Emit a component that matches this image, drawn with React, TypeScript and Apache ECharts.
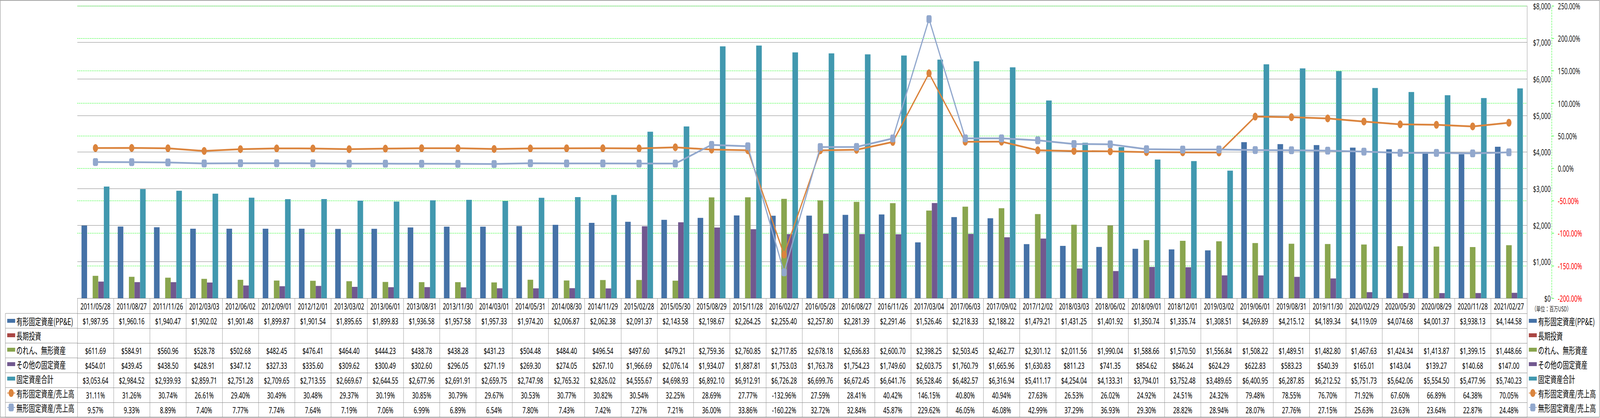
import React, { useEffect, useRef } from 'react';
import * as echarts from 'echarts';

const dates = [
  '2011/05/28', '2011/08/27', '2011/11/26', '2012/03/03', '2012/06/02', '2012/09/01', '2012/12/01', '2013/03/02',
  '2013/06/01', '2013/08/31', '2013/11/30', '2014/03/01', '2014/05/31', '2014/08/30', '2014/11/29', '2015/02/28',
  '2015/05/30', '2015/08/29', '2015/11/28', '2016/02/27', '2016/05/28', '2016/08/27', '2016/11/26', '2017/03/04',
  '2017/06/03', '2017/09/02', '2017/12/02', '2018/03/03', '2018/06/02', '2018/09/01', '2018/12/01', '2019/03/02',
  '2019/06/01', '2019/08/31', '2019/11/30', '2020/02/29', '2020/05/30', '2020/08/29', '2020/11/28', '2021/02/27',
];

const ppe = [
  1987.95, 1960.16, 1940.47, 1902.02, 1901.48, 1899.87, 1901.54, 1895.65, 1899.83, 1936.58,
  1957.58, 1957.33, 1974.2, 2006.87, 2062.38, 2091.37, 2143.58, 2198.67, 2264.25, 2255.4,
  2257.8, 2281.39, 2291.46, 1526.46, 2218.33, 2188.22, 1479.21, 1431.25, 1401.92, 1350.74,
  1335.74, 1308.51, 4269.89, 4215.12, 4189.34, 4119.09, 4074.68, 4001.37, 3938.13, 4144.58,
];

const longTermInvestments: (number | null)[] = [];

const goodwill = [
  611.69, 584.91, 560.96, 528.78, 502.68, 482.45, 476.41, 464.4, 444.23, 438.78,
  438.28, 431.23, 504.48, 484.4, 496.54, 497.6, 479.21, 2759.36, 2760.85, 2717.85,
  2678.18, 2636.83, 2600.7, 2398.25, 2503.45, 2462.77, 2301.12, 2011.56, 1990.04, 1588.66,
  1570.5, 1556.84, 1508.22, 1489.51, 1482.8, 1467.63, 1424.34, 1413.87, 1399.15, 1448.66,
];

const otherFixed = [
  454.01, 439.45, 438.5, 428.91, 347.12, 327.33, 335.6, 309.62, 300.49, 302.6,
  296.05, 271.19, 269.3, 274.05, 267.1, 1966.69, 2076.14, 1934.07, 1887.81, 1753.03,
  1763.78, 1754.23, 1749.6, 2603.75, 1760.79, 1665.96, 1630.83, 811.23, 741.35, 854.62,
  846.24, 624.29, 622.83, 583.23, 540.39, 165.01, 143.04, 139.27, 140.68, 147.0,
];

const totalFixed = [
  3053.64, 2984.52, 2939.93, 2859.71, 2751.28, 2709.65, 2713.55, 2669.67, 2644.55, 2677.96,
  2691.91, 2659.75, 2747.98, 2765.32, 2826.02, 4555.67, 4698.93, 6892.1, 6912.91, 6726.28,
  6699.76, 6672.45, 6641.76, 6528.46, 6482.57, 6316.94, 5411.17, 4254.04, 4133.31, 3794.01,
  3752.48, 3489.65, 6400.95, 6287.85, 6212.52, 5751.73, 5642.06, 5554.5, 5477.96, 5740.23,
];

const ppeRatio = [
  31.11, 31.26, 30.74, 26.61, 29.4, 30.49, 30.48, 29.37, 30.19, 30.85,
  30.79, 29.67, 30.53, 30.77, 30.82, 30.54, 32.25, 28.69, 27.77, -132.96,
  27.59, 28.41, 40.42, 146.15, 40.8, 40.94, 27.63, 26.53, 26.02, 24.92,
  24.51, 24.32, 79.48, 78.55, 76.7, 71.92, 67.6, 66.89, 64.38, 70.05,
];

const intangibleRatio = [
  9.57, 9.33, 8.89, 7.4, 7.77, 7.74, 7.64, 7.19, 7.06, 6.99,
  6.89, 6.54, 7.8, 7.43, 7.42, 7.27, 7.21, 36.0, 33.86, -160.22,
  32.72, 32.84, 45.87, 229.62, 46.05, 46.08, 42.99, 37.29, 36.93, 29.3,
  28.82, 28.94, 28.07, 27.76, 27.15, 25.63, 23.63, 23.64, 22.87, 24.48,
];

const seriesNames = [
  '有形固定資産(PP&E)',
  '長期投資',
  'のれん、無形資産',
  'その他の固定資産',
  '固定資産合計',
  '有形固定資産/売上高',
  '無形固定資産/売上高',
];

const colors = ['#4572A7', '#AA4643', '#89A54E', '#71588F', '#4198AF', '#DB843D', '#92A8CD'];

const unitLabel = '（単位：百万USD）';

const money = (v: number | null | undefined) =>
  v == null ? '' : '$' + v.toLocaleString('en-US', { minimumFractionDigits: 2, maximumFractionDigits: 2 });
const pct = (v: number | null | undefined) => (v == null ? '' : v.toFixed(2) + '%');

const tableRows: { values: (number | null)[]; fmt: (v: number | null | undefined) => string }[] = [
  { values: ppe, fmt: money },
  { values: longTermInvestments, fmt: money },
  { values: goodwill, fmt: money },
  { values: otherFixed, fmt: money },
  { values: totalFixed, fmt: money },
  { values: ppeRatio, fmt: pct },
  { values: intangibleRatio, fmt: pct },
];

const GRAY = '#868686';
const NUM_FONT = '"Noto Sans", "DejaVu Sans", sans-serif';
const CJK_FONT = '"Noto Sans CJK JP", "Noto Sans", sans-serif';

const REF_W = 6227;
const REF_H = 1071;

export default function App() {
  const ref = useRef<HTMLDivElement>(null);
  const vw = typeof window !== 'undefined' && window.innerWidth ? window.innerWidth : REF_W;
  const vh = typeof window !== 'undefined' && window.innerHeight ? window.innerHeight : REF_H;
  const sx = vw / REF_W;
  const sy = vh / REF_H;

  useEffect(() => {
    if (!ref.current) return;
    const chart = echarts.init(ref.current, undefined, { renderer: 'svg', width: REF_W, height: REF_H });

    const gridLeft = 301;
    const gridRight = 5943;
    const gridTop = 15;
    const gridBottom = 764;
    const headerH = 39;
    const rowH = 38;

    const xAxes: any[] = [];
    xAxes.push({
      type: 'category',
      data: dates,
      position: 'bottom',
      offset: 0,
      axisLine: { show: true, onZero: false, lineStyle: { color: GRAY, width: 1.2 } },
      axisTick: { show: true, interval: 0, length: headerH, lineStyle: { color: GRAY, width: 1.2 } },
      axisLabel: { interval: 0, margin: 9, fontSize: 22, lineHeight: 22, fontFamily: NUM_FONT, color: '#000' },
      splitLine: { show: false },
    });
    tableRows.forEach((row, k) => {
      xAxes.push({
        type: 'category',
        data: dates,
        position: 'bottom',
        offset: headerH + rowH * k,
        axisLine: { show: true, onZero: false, lineStyle: { color: GRAY, width: 1.2 } },
        axisTick: { show: true, interval: 0, length: rowH, lineStyle: { color: GRAY, width: 1.2 } },
        axisLabel: {
          interval: 0,
          margin: 8,
          fontSize: 22,
          lineHeight: 22,
          fontFamily: NUM_FONT,
          color: '#000',
          formatter: (_v: string, idx: number) => row.fmt(row.values[idx]),
        },
        splitLine: { show: false },
      });
    });
    xAxes.push({
      type: 'category',
      data: dates,
      position: 'bottom',
      offset: headerH + rowH * tableRows.length,
      axisLine: { show: true, onZero: false, lineStyle: { color: GRAY, width: 1.2 } },
      axisTick: { show: false },
      axisLabel: { show: false },
      splitLine: { show: false },
    });

    const legendCommon = {
      orient: 'vertical',
      itemWidth: 31,
      itemHeight: 25,
      itemGap: 13,
      padding: 0,
      selectedMode: false,
      textStyle: { fontSize: 24, lineHeight: 24, fontFamily: CJK_FONT, color: '#000' },
      data: seriesNames.map((n, i) => (i < 5 ? { name: n, icon: 'path://M0,0h31v10h-31z' } : { name: n })),
    };

    const firstRowTop = gridBottom + headerH;
    const leftLines: any[] = [];
    for (let k = 0; k <= tableRows.length; k++) {
      const y = firstRowTop + rowH * k;
      leftLines.push({
        type: 'line',
        shape: { x1: 21, y1: y, x2: gridLeft, y2: y },
        style: { stroke: GRAY, lineWidth: 1.2 },
        silent: true,
      });
    }
    leftLines.push({
      type: 'line',
      shape: { x1: 21, y1: firstRowTop, x2: 21, y2: firstRowTop + rowH * tableRows.length },
      style: { stroke: GRAY, lineWidth: 1.2 },
      silent: true,
    });

    const barSeries = [ppe, longTermInvestments, goodwill, otherFixed, totalFixed].map((d, i) => ({
      name: seriesNames[i],
      type: 'bar',
      xAxisIndex: 0,
      yAxisIndex: 0,
      data: d,
      barGap: '0%',
      barCategoryGap: '23%',
      itemStyle: { color: colors[i] },
      silent: true,
    }));

    const lineSeries = [ppeRatio, intangibleRatio].map((d, j) => ({
      name: seriesNames[5 + j],
      type: 'line',
      xAxisIndex: 0,
      yAxisIndex: 1,
      data: d,
      symbol: j === 0 ? 'circle' : 'roundRect',
      symbolSize: 20,
      lineStyle: { color: colors[5 + j], width: 4.5 },
      itemStyle: { color: colors[5 + j] },
      silent: true,
      z: 5 + j,
    }));

    chart.setOption({
      animation: false,
      backgroundColor: '#fff',
      grid: {
        left: gridLeft,
        right: REF_W - gridRight,
        top: gridTop,
        bottom: REF_H - gridBottom,
        containLabel: false,
      },
      legend: [
        { ...legendCommon, left: 27, top: firstRowTop + 7 },
        { ...legendCommon, left: 5949, top: firstRowTop + 7 },
      ],
      xAxis: xAxes,
      yAxis: [
        {
          type: 'value',
          position: 'right',
          min: 0,
          max: 8000,
          interval: 1000,
          axisLine: { show: true, lineStyle: { color: GRAY, width: 1.2 } },
          axisTick: { show: false },
          axisLabel: {
            margin: 92,
            align: 'right',
            fontSize: 22,
            fontFamily: NUM_FONT,
            color: '#1a1a1a',
            formatter: (v: number) => '$' + v.toLocaleString('en-US'),
          },
          splitLine: { show: true, lineStyle: { color: GRAY, width: 1.2 } },
        },
        {
          type: 'value',
          position: 'right',
          offset: 96,
          min: -200,
          max: 250,
          interval: 50,
          axisLine: { show: true, lineStyle: { color: '#00FF00', width: 1.2, type: [4, 3] } },
          axisTick: { show: true, length: 9, lineStyle: { color: '#00FF00', width: 1.2 } },
          axisLabel: {
            margin: 24,
            align: 'left',
            fontSize: 22,
            fontFamily: NUM_FONT,
            color: (v: any) => (Number(v) < 0 ? '#FF0000' : '#1a1a1a'),
            formatter: (v: number) => v.toFixed(2) + '%',
          },
          splitLine: { show: true, lineStyle: { color: '#00FF00', width: 1.2, type: [4, 3] } },
        },
      ],
      series: [...barSeries, ...lineSeries],
      graphic: [
        {
          type: 'rect',
          shape: { x: 1, y: 1, width: REF_W - 3, height: REF_H - 3 },
          style: { fill: 'none', stroke: GRAY, lineWidth: 1.5 },
          silent: true,
          z: -1,
        },
        ...leftLines,
        {
          type: 'text',
          x: 5962,
          y: 782,
          style: { text: unitLabel, fontSize: 17, fontFamily: CJK_FONT, fill: '#222' },
          silent: true,
        },
      ],
    });

    return () => chart.dispose();
  }, []);

  return (
    <div
      style={{ position: 'absolute', left: 0, top: 0, width: vw, height: vh, overflow: 'hidden', background: '#fff' }}
    >
      <div
        ref={ref}
        style={{
          position: 'absolute',
          left: 0,
          top: 0,
          width: REF_W,
          height: REF_H,
          background: '#fff',
          transform: `scale(${sx}, ${sy})`,
          transformOrigin: '0 0',
        }}
      />
    </div>
  );
}
